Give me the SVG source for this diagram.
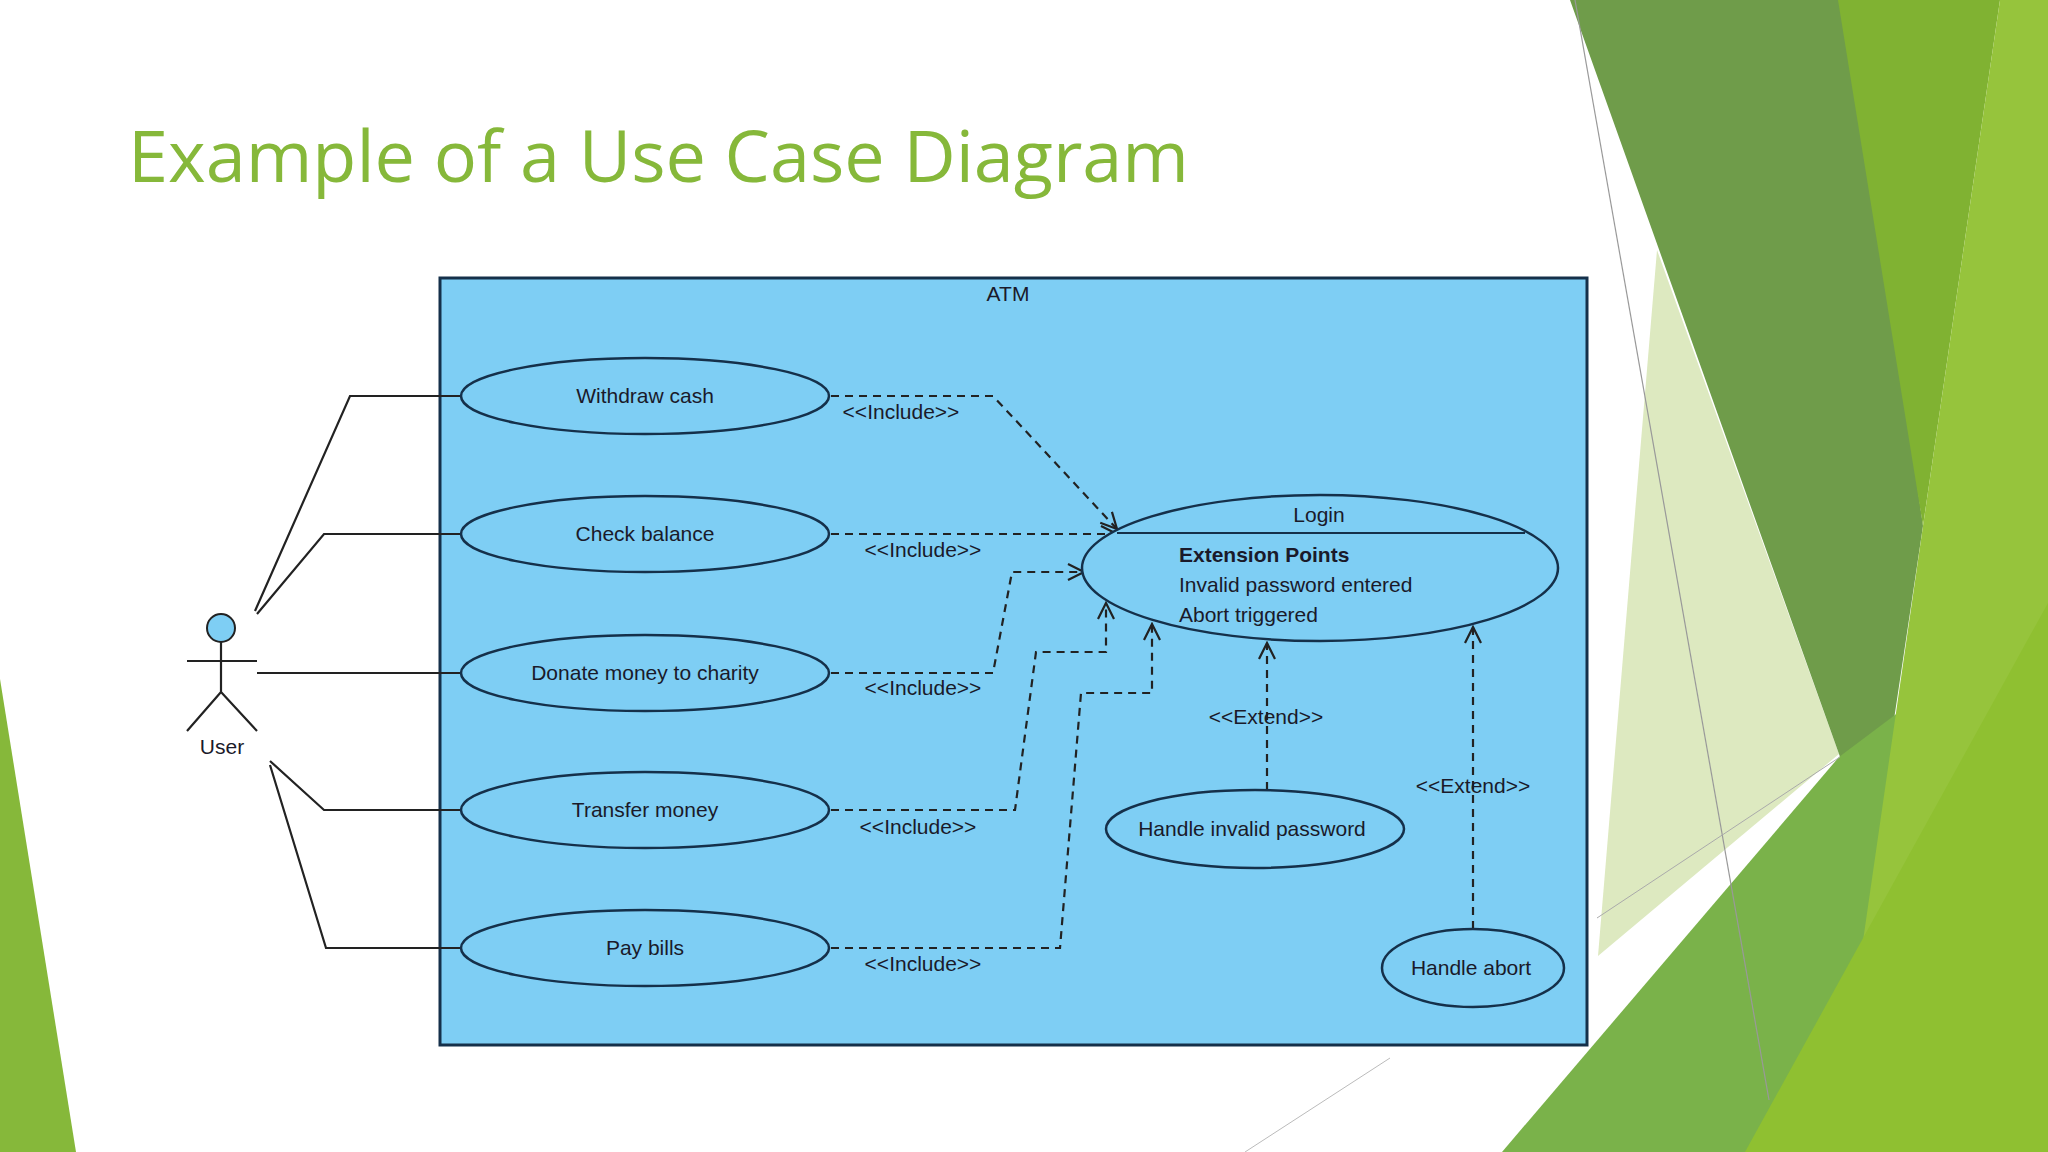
<svg xmlns="http://www.w3.org/2000/svg" width="2048" height="1152" viewBox="0 0 2048 1152">
<defs>
<style>
.t{font-family:"Liberation Sans",Arial,sans-serif;font-size:21px;fill:#1a1a2a}
.uc{fill:#7ecef4;stroke:#15304a;stroke-width:2.5}
.ln{fill:none;stroke:#222;stroke-width:2.2}
.dl{fill:none;stroke:#222;stroke-width:2.2;stroke-dasharray:8,6}
</style>
<marker id="ah" markerWidth="20" markerHeight="20" refX="18" refY="10" orient="auto" markerUnits="userSpaceOnUse">
<path d="M2,2 L18,10 L2,18" fill="none" stroke="#222" stroke-width="2.2"/>
</marker>
</defs>
<rect width="2048" height="1152" fill="#fff"/>
<g id="bg">
<polygon points="0,679 76,1152 0,1152" fill="#86b83a"/>
<polygon points="1657,250 1839,754 1598,956" fill="#dde9c0"/>
<polygon points="1570,0 1850,0 1923,526 1874,853 1839,754" fill="#6f9c4a"/>
<polygon points="1838,0 2000,0 1923,526" fill="#80b232"/>
<polygon points="1502,1152 1839,757 2048,600 2048,1152" fill="#7ab24a"/>
<polygon points="2000,0 2048,0 2048,1152 1832,1152 1864,934 1923,526" fill="#96c43c"/>
<polygon points="1745,1152 2048,603 2048,1152" fill="#8fc031"/>
<line x1="1575" y1="0" x2="1769" y2="1100" stroke="#999" stroke-width="1.2"/>
<line x1="1597" y1="918" x2="1840" y2="757" stroke="#aaa" stroke-width="1"/>
<line x1="1245" y1="1152" x2="1390" y2="1058" stroke="#bbb" stroke-width="1"/>
</g>
<text x="128" y="182" font-family="'Open Sans','Noto Sans',sans-serif" font-size="72" fill="#86b83a">Example of a Use Case Diagram</text>
<rect x="440" y="278" width="1147" height="767" fill="#7ecef4" stroke="#15304a" stroke-width="3"/>
<text class="t" x="1008" y="301" text-anchor="middle">ATM</text>
<g id="connectors">
<polyline class="ln" points="255,611 350,396 462,396"/>
<polyline class="ln" points="257,614 324,534 462,534"/>
<polyline class="ln" points="257,673 462,673"/>
<polyline class="ln" points="270,761 324,810 462,810"/>
<polyline class="ln" points="270,765 326,948 462,948"/>
<polyline class="dl" points="831,396 993,396 1117,529" marker-end="url(#ah)"/>
<polyline class="dl" points="831,534 1117,534" marker-end="url(#ah)"/>
<polyline class="dl" points="831,673 993,673 1012,572 1084,572" marker-end="url(#ah)"/>
<polyline class="dl" points="831,810 1015,810 1036,652 1106,652 1106,603" marker-end="url(#ah)"/>
<polyline class="dl" points="831,948 1060,948 1081,693 1152,693 1152,624" marker-end="url(#ah)"/>
<polyline class="dl" points="1267,790 1267,643" marker-end="url(#ah)"/>
<polyline class="dl" points="1473,929 1473,627" marker-end="url(#ah)"/>
<text class="t" x="901" y="419" text-anchor="middle">&lt;&lt;Include&gt;&gt;</text>
<text class="t" x="923" y="557" text-anchor="middle">&lt;&lt;Include&gt;&gt;</text>
<text class="t" x="923" y="695" text-anchor="middle">&lt;&lt;Include&gt;&gt;</text>
<text class="t" x="918" y="834" text-anchor="middle">&lt;&lt;Include&gt;&gt;</text>
<text class="t" x="923" y="971" text-anchor="middle">&lt;&lt;Include&gt;&gt;</text>
<text class="t" x="1266" y="724" text-anchor="middle">&lt;&lt;Extend&gt;&gt;</text>
<text class="t" x="1473" y="793" text-anchor="middle">&lt;&lt;Extend&gt;&gt;</text>
</g>
<g id="user">
<circle cx="221" cy="628" r="14" fill="#7ecef4" stroke="#222" stroke-width="2"/>
<path class="ln" d="M221,642 V692 M187,661 H257 M221,692 L187,731 M221,692 L257,731"/>
<text class="t" x="222" y="754" text-anchor="middle">User</text>
</g>
<g id="withdraw"><ellipse class="uc" cx="645" cy="396" rx="184" ry="38"/><text class="t" x="645" y="403" text-anchor="middle">Withdraw cash</text></g>
<g id="check"><ellipse class="uc" cx="645" cy="534" rx="184" ry="38"/><text class="t" x="645" y="541" text-anchor="middle">Check balance</text></g>
<g id="donate"><ellipse class="uc" cx="645" cy="673" rx="184" ry="38"/><text class="t" x="645" y="680" text-anchor="middle">Donate money to charity</text></g>
<g id="transfer"><ellipse class="uc" cx="645" cy="810" rx="184" ry="38"/><text class="t" x="645" y="817" text-anchor="middle">Transfer money</text></g>
<g id="pay"><ellipse class="uc" cx="645" cy="948" rx="184" ry="38"/><text class="t" x="645" y="955" text-anchor="middle">Pay bills</text></g>
<g id="login">
<ellipse class="uc" cx="1320" cy="568" rx="238" ry="73"/>
<line x1="1117" y1="533" x2="1525" y2="533" stroke="#15304a" stroke-width="2"/>
<text class="t" x="1319" y="522" text-anchor="middle">Login</text>
<text class="t" x="1179" y="562" font-weight="bold">Extension Points</text>
<text class="t" x="1179" y="592">Invalid password entered</text>
<text class="t" x="1179" y="622">Abort triggered</text>
</g>
<g id="invalid"><ellipse class="uc" cx="1255" cy="829" rx="149" ry="39"/><text class="t" x="1252" y="836" text-anchor="middle">Handle invalid password</text></g>
<g id="abort"><ellipse class="uc" cx="1473" cy="968" rx="91" ry="39"/><text class="t" x="1471" y="975" text-anchor="middle">Handle abort</text></g>
</svg>
